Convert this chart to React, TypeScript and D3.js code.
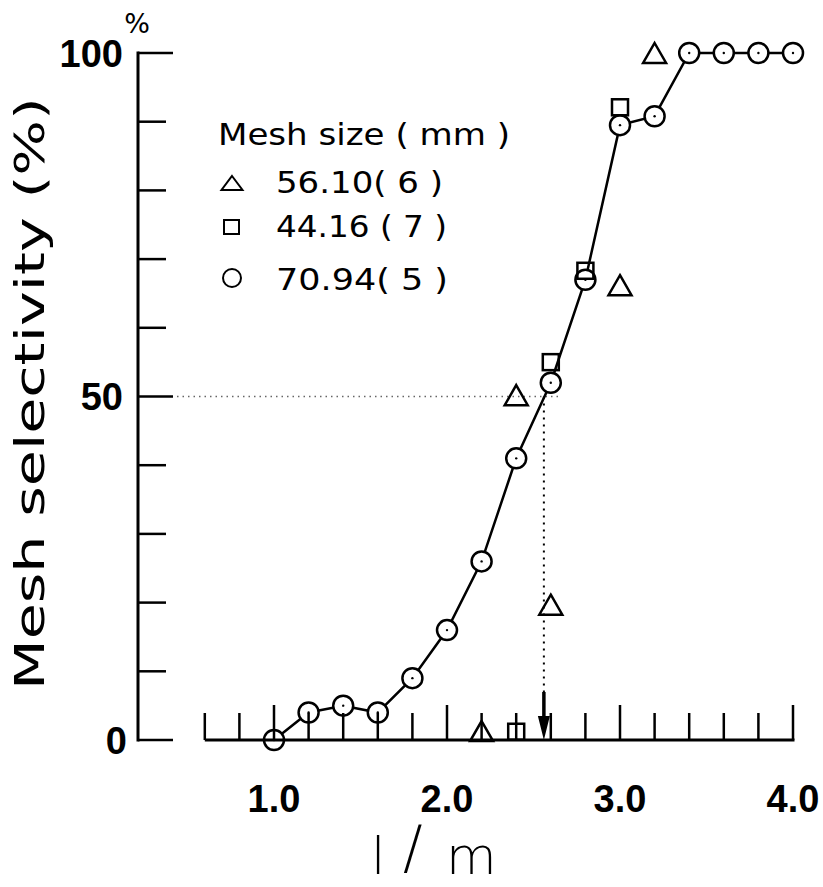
import React from "react";
import * as d3 from "d3";

// ---- data ----
const circleX = [1.0, 1.2, 1.4, 1.6, 1.8, 2.0, 2.2, 2.4, 2.6, 2.8, 3.0, 3.2, 3.4, 3.6, 3.8, 4.0];
const circleY = [0, 4, 5, 4, 9, 16, 26, 41, 52, 67, 89.5, 90.8, 100, 100, 100, 100];
const squareX = [2.4, 2.6, 2.8, 3.0];
const squareY = [1.2, 55, 68.3, 92.1];
const triangleX = [2.2, 2.4, 2.6, 3.0, 3.2];
const triangleY = [1.3, 50.2, 19.7, 66.2, 100];
const legendLabels = ["56.10( 6 )", "44.16 ( 7 )", "70.94( 5 )"];
const legendShapes = ["triangle", "square", "circle"];
const xTickValues = [0.6, 0.8, 1.0, 1.2, 1.4, 1.6, 1.8, 2.0, 2.2, 2.4, 2.6, 2.8, 3.0, 3.2, 3.4, 3.6, 3.8, 4.0];
const xLabelValues = [1.0, 2.0, 3.0, 4.0];
const yTickValues = [0, 10, 20, 30, 40, 50, 60, 70, 80, 90, 100];
const yLabelValues = [0, 50, 100];
const L50 = 2.56;
const HALF = 50;

const x = d3.scaleLinear().domain([1, 4]).range([274, 793]);
const y = d3.scaleLinear().domain([0, 100]).range([740, 53]);

const FONT = "'DejaVu Sans', sans-serif";
const BOLD = "'Liberation Sans', Arial, sans-serif";

function Triangle({ cx, cy, w, h, sw }: { cx: number; cy: number; w: number; h: number; sw: number }) {
  const p = `M${cx},${cy - h / 2}L${cx + w / 2},${cy + h / 2}L${cx - w / 2},${cy + h / 2}Z`;
  return <path d={p} fill="none" stroke="#000" strokeWidth={sw} strokeLinejoin="miter" />;
}

export default function App() {
  const line = d3
    .line<number>()
    .x((_, i) => x(circleX[i]))
    .y((d) => y(d));
  const axisY = y(0);
  return (
    <svg
      width={823}
      height={887}
      style={{ position: "absolute", left: 0, top: 0, background: "#fff" }}
    >
      <rect width={823} height={887} fill="#fff" />
      {/* reference dotted lines */}
      <line x1={177} x2={x(L50) + 16} y1={y(HALF)} y2={y(HALF)} stroke="#666" strokeWidth={1.3} strokeDasharray="1.5 4" />
      <line x1={x(L50)} x2={x(L50)} y1={y(HALF)} y2={692} stroke="#000" strokeWidth={2} strokeDasharray="2 5" />
      <line x1={x(L50)} x2={x(L50)} y1={692} y2={720} stroke="#000" strokeWidth={3.5} />
      <path d={`M${x(L50) - 6},716L${x(L50) + 6},716L${x(L50)},${axisY}Z`} fill="#000" />

      {/* data line */}
      <path d={line(circleY) || ""} fill="none" stroke="#000" strokeWidth={2.5} />
      {circleY.map((v, i) => (
        <g key={"c" + i}>
          <circle cx={x(circleX[i])} cy={y(v)} r={10} fill="#fff" stroke="#000" strokeWidth={2.5} />
          <circle cx={x(circleX[i])} cy={y(v)} r={1.2} fill="#000" />
        </g>
      ))}
      {squareY.map((v, i) => (
        <rect
          key={"s" + i}
          x={x(squareX[i]) - 8}
          y={y(v) - 8}
          width={16}
          height={16}
          fill="none"
          stroke="#000"
          strokeWidth={2.5}
        />
      ))}
      {triangleY.map((v, i) => (
        <Triangle key={"t" + i} cx={x(triangleX[i])} cy={y(v)} w={23} h={20} sw={2.5} />
      ))}

      {/* y axis */}
      <line x1={138} x2={138} y1={y(100) - 1.5} y2={axisY + 1.5} stroke="#000" strokeWidth={3} />
      {yTickValues.map((t) => (
        <line
          key={"yt" + t}
          x1={138}
          x2={t % 50 === 0 ? 173 : 166}
          y1={y(t)}
          y2={y(t)}
          stroke="#000"
          strokeWidth={2.5}
        />
      ))}
      {yLabelValues.map((t) => (
        <text
          key={"yl" + t}
          x={t === 0 ? 127 : 123}
          y={y(t) + 13.5}
          textAnchor="end"
          fontFamily={BOLD}
          fontWeight="bold"
          fontSize={38}
        >
          {t}
        </text>
      ))}
      <text x={137} y={33} textAnchor="middle" fontFamily={FONT} fontSize={27}>
        %
      </text>

      {/* x axis */}
      <line x1={x(0.6)} x2={x(4.0) + 1.5} y1={axisY} y2={axisY} stroke="#000" strokeWidth={3} />
      {xTickValues.map((t) => (
        <line
          key={"xt" + t}
          x1={x(t)}
          x2={x(t)}
          y1={axisY}
          y2={axisY - (Math.abs(t - Math.round(t)) < 1e-6 ? 35 : 27)}
          stroke="#000"
          strokeWidth={2.5}
        />
      ))}
      {xLabelValues.map((t) => (
        <text
          key={"xl" + t}
          x={x(t)}
          y={812}
          textAnchor="middle"
          fontFamily={BOLD}
          fontWeight="bold"
          fontSize={38}
        >
          {t.toFixed(1)}
        </text>
      ))}

      {/* axis titles */}
      <text
        transform="translate(44,690) rotate(-90)"
        fontFamily={FONT}
        fontSize={41}
        textLength={593}
        lengthAdjust="spacingAndGlyphs"
      >
        Mesh selectivity (%)
      </text>
      <text fontFamily={FONT} fontWeight={300}>
        <tspan x={371} y={874} fontSize={52}>l</tspan>
        <tspan x={403} y={868} fontSize={58}>/</tspan>
        <tspan x={446} y={874} fontSize={52}>m</tspan>
      </text>

      {/* legend */}
      <text x={218} y={145} fontFamily={FONT} fontSize={30} textLength={292} lengthAdjust="spacingAndGlyphs">
        Mesh size ( mm )
      </text>
      {legendLabels.map((lab, i) => {
        const base = [193, 237, 290][i];
        const ends = [443, 447, 448][i];
        const cy = base - 10;
        const shape = legendShapes[i];
        return (
          <g key={"lg" + i}>
            {shape === "triangle" && <Triangle cx={232} cy={cy} w={21} h={14} sw={2} />}
            {shape === "square" && (
              <rect x={224} y={cy - 7} width={15} height={14} fill="none" stroke="#000" strokeWidth={2} />
            )}
            {shape === "circle" && <circle cx={232} cy={cy - 2} r={9} fill="none" stroke="#000" strokeWidth={2} />}
            <text
              x={276}
              y={base}
              fontFamily={FONT}
              fontSize={30}
              textLength={ends - 276}
              lengthAdjust="spacingAndGlyphs"
            >
              {lab}
            </text>
          </g>
        );
      })}
    </svg>
  );
}
